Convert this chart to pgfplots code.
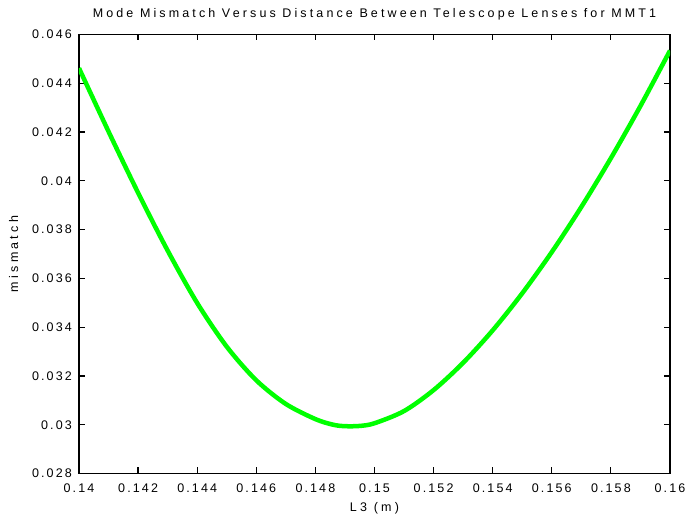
\documentclass[border=0pt]{standalone}
\usepackage{pgfplots}
\pgfplotsset{compat=1.18}
\usepackage{fontspec}
\setmainfont{Liberation Sans}[LetterSpace=17]
\newfontfamily\widefont{Liberation Sans}[LetterSpace=26]
\newfontfamily\titlefont{Liberation Sans}[LetterSpace=25]
\pgfplotstableread{
x y
0.1400 0.04462
0.1410 0.04202
0.1420 0.03951
0.1430 0.03714
0.1440 0.03499
0.1450 0.03320
0.1460 0.03182
0.1470 0.03085
0.1480 0.03023
0.1486 0.03000
0.1490 0.02994
0.1495 0.02995
0.1500 0.03006
0.1510 0.03056
0.1520 0.03142
0.1530 0.03254
0.1540 0.03387
0.1550 0.03539
0.1560 0.03708
0.1570 0.03893
0.1580 0.04093
0.1590 0.04307
0.1600 0.04534
}\datatable
\begin{document}
\begin{tikzpicture}
\useasboundingbox (-79pt,-47.5pt) rectangle (610pt,473.5pt);
\begin{axis}[
  at={(0,0)}, anchor=south west,
  scale only axis, width=591pt, height=439pt,
  xmin=0.14, xmax=0.16, ymin=0.028, ymax=0.046,
  xtick={0.14,0.142,0.144,0.146,0.148,0.15,0.152,0.154,0.156,0.158,0.16},
  xticklabels={0.14,0.142,0.144,0.146,0.148,0.15,0.152,0.154,0.156,0.158,0.16},
  ytick={0.028,0.03,0.032,0.034,0.036,0.038,0.04,0.042,0.044,0.046},
  yticklabels={0.028,0.03,0.032,0.034,0.036,0.038,0.04,0.042,0.044,0.046},
  scaled ticks=false,
  tick align=inside, major tick length=6pt,
  axis line style={line width=1.2pt},
  every tick/.style={black, line width=1.2pt},
  xticklabel style={anchor=base, inner sep=0pt, yshift=-19.5pt, font=\fontsize{12.5}{14}\selectfont},
  yticklabel style={anchor=east, inner sep=0pt, xshift=-7pt, font=\fontsize{12.5}{14}\selectfont},
  title={Mode Mismatch Versus Distance Between Telescope Lenses for MMT1},
  title style={at={(axis description cs:0.5,1)}, anchor=base, inner sep=0pt, yshift=11pt, font=\titlefont\fontsize{12.5}{14}\selectfont},
  xlabel={L3 (m)},
  xlabel style={at={(axis description cs:0.5,0)}, anchor=base, inner sep=0pt, yshift=-38pt, font=\widefont\fontsize{12.5}{14}\selectfont},
  ylabel={mismatch},
  ylabel style={at={(axis description cs:-0.1032,0.5)}, anchor=base, rotate=0, inner sep=0pt, font=\widefont\fontsize{12.5}{14}\selectfont},
]
\addplot[color={rgb,255:red,0;green,255;blue,0}, line width=4.5pt, smooth, tension=0.5] table[x=x,y=y] {\datatable};
\end{axis}
\end{tikzpicture}
\end{document}
